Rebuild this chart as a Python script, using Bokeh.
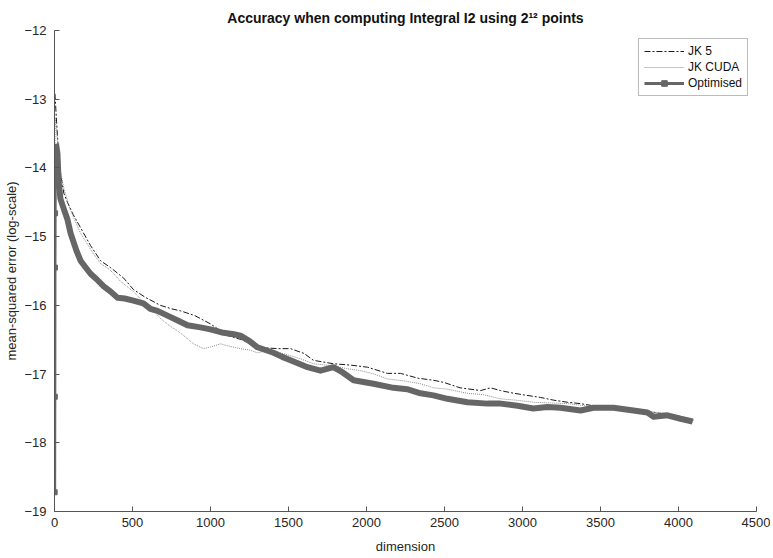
from bokeh.plotting import figure
from bokeh.models import Legend, LegendItem, FixedTicker, Range1d
from bokeh.embed import file_html
from bokeh.resources import INLINE

# ---- data ----
jk5_dim = [3, 10, 17, 26, 40, 60, 83, 120, 167, 231, 295, 359, 442, 506, 580, 679, 750, 808, 900,
           1000, 1109, 1200, 1301, 1429, 1513, 1600, 1660, 1788, 1900, 2006, 2134, 2218, 2330, 2429,
           2494, 2600, 2731, 2795, 2859, 2923, 3000, 3115, 3200, 3288, 3372, 3450, 3550, 3650, 3750,
           3850, 3950, 4050, 4096]
jk5_val = [-12.92, -13.2, -13.46, -13.79, -14.1, -14.37, -14.5, -14.68, -14.87, -15.13, -15.35, -15.45,
           -15.6, -15.77, -15.88, -16.0, -16.05, -16.08, -16.15, -16.27, -16.44, -16.5, -16.61, -16.63,
           -16.63, -16.7, -16.8, -16.85, -16.87, -16.9, -16.99, -16.99, -17.06, -17.09, -17.12, -17.2,
           -17.24, -17.2, -17.24, -17.27, -17.3, -17.34, -17.38, -17.41, -17.43, -17.46, -17.48, -17.5,
           -17.52, -17.56, -17.6, -17.64, -17.67]

cuda_dim = [1, 5, 15, 25, 38, 60, 100, 167, 250, 295, 359, 423, 506, 570, 615, 679, 740, 788, 850,
            891, 955, 1010, 1064, 1130, 1192, 1250, 1301, 1365, 1430, 1494, 1580, 1660, 1788, 1870,
            1962, 2050, 2134, 2240, 2346, 2429, 2519, 2647, 2750, 2859, 2960, 3070, 3180, 3288, 3400,
            3500, 3600, 3700, 3800, 3885, 3980, 4096]
cuda_val = [-13.9, -13.27, -13.5, -13.8, -14.04, -14.3, -14.6, -14.95, -15.25, -15.39, -15.49, -15.65,
            -15.8, -15.95, -16.03, -16.19, -16.3, -16.37, -16.48, -16.56, -16.63, -16.6, -16.56, -16.6,
            -16.63, -16.65, -16.69, -16.66, -16.68, -16.72, -16.78, -16.85, -16.88, -16.92, -16.95, -17.0,
            -17.07, -17.1, -17.14, -17.2, -17.22, -17.28, -17.3, -17.36, -17.38, -17.41, -17.42, -17.43,
            -17.46, -17.48, -17.49, -17.52, -17.55, -17.56, -17.6, -17.66]

opt_dim = [1, 2, 3, 4, 5, 7, 10, 19, 26, 38, 60, 83, 103, 140, 167, 200, 231, 270, 314, 360, 404, 450,
           506, 570, 615, 660, 724, 790, 852, 936, 1000, 1083, 1150, 1192, 1250, 1301, 1404, 1460, 1513,
           1622, 1705, 1788, 1850, 1917, 2045, 2173, 2260, 2346, 2429, 2519, 2647, 2776, 2859, 2968,
           3070, 3160, 3243, 3372, 3455, 3583, 3711, 3801, 3840, 3929, 4013, 4090]
opt_val = [-18.72, -17.33, -15.45, -14.66, -14.26, -13.9, -13.65, -13.79, -14.18, -14.45, -14.6, -14.75,
           -14.95, -15.2, -15.35, -15.45, -15.54, -15.62, -15.72, -15.8, -15.89, -15.9, -15.93, -15.97,
           -16.05, -16.08, -16.15, -16.22, -16.29, -16.32, -16.35, -16.4, -16.42, -16.44, -16.52, -16.61,
           -16.69, -16.75, -16.8, -16.9, -16.95, -16.9, -16.98, -17.09, -17.14, -17.2, -17.22, -17.28,
           -17.31, -17.36, -17.41, -17.43, -17.43, -17.46, -17.5, -17.48, -17.49, -17.53, -17.49, -17.49,
           -17.53, -17.56, -17.62, -17.6, -17.65, -17.69]

x_ticks = [0, 500, 1000, 1500, 2000, 2500, 3000, 3500, 4000, 4500]
y_ticks = [-19, -18, -17, -16, -15, -14, -13, -12]

FONT = "Liberation Sans"
AX = "#555555"
TXT = "#262626"

p = figure(width=770, height=556, output_backend="svg", toolbar_location=None,
           x_range=Range1d(0, 4500), y_range=Range1d(-19, -12),
           min_border_left=54, min_border_right=14, min_border_top=30, min_border_bottom=44,
           title="Accuracy when computing Integral I2 using 2\u00b9\u00b2 points")
p.title.align = "center"
p.title.text_font = FONT
p.title.text_font_size = "14px"
p.title.text_font_style = "bold"
p.title.text_color = "#111111"
p.title.standoff = 9
p.title.offset = 0

p.grid.visible = False
p.outline_line_color = None
p.background_fill_color = "white"
p.border_fill_color = "white"

for ax in (p.xaxis[0], p.yaxis[0]):
    ax.axis_line_color = AX
    ax.major_tick_line_color = AX
    ax.major_tick_in = 5
    ax.major_tick_out = 0
    ax.minor_tick_line_color = None
    ax.major_label_text_font = FONT
    ax.major_label_text_font_size = "13px"
    ax.major_label_text_color = TXT
    ax.axis_label_text_font = FONT
    ax.axis_label_text_font_size = "13px"
    ax.axis_label_text_font_style = "normal"
    ax.axis_label_text_color = TXT

p.xaxis.ticker = FixedTicker(ticks=x_ticks)
p.yaxis.ticker = FixedTicker(ticks=y_ticks)
p.xaxis.axis_label = "dimension"
p.yaxis.axis_label = "mean-squared error (log-scale)"
p.xaxis.major_label_standoff = 6
p.xaxis.axis_label_standoff = 9
p.yaxis.major_label_standoff = 8
p.yaxis.axis_label_standoff = 2

r_jk5 = p.line(jk5_dim, jk5_val, line_color="#1a1a1a", line_width=1, line_dash="6 2 2 2")
r_cuda = p.line(cuda_dim, cuda_val, line_color="#8c8c8c", line_width=1, line_dash="1 1")

opt_col = "#666666"
r_opt_thin = p.line(opt_dim, opt_val, line_color=opt_col, line_width=3)
n0 = 6
r_opt_thick = p.line(opt_dim[n0:], opt_val[n0:], line_color=opt_col, line_width=6, line_join="round")
r_opt_mk = p.scatter(opt_dim[:n0], opt_val[:n0], marker="square", size=5,
                     fill_color=opt_col, line_color=opt_col)

legend = Legend(items=[
    LegendItem(label="JK 5", renderers=[r_jk5]),
    LegendItem(label="JK CUDA", renderers=[r_cuda]),
    LegendItem(label="Optimised", renderers=[r_opt_thin, r_opt_mk]),
], location="top_right")
legend.label_text_font = FONT
legend.label_text_font_size = "12px"
legend.label_text_color = "#111111"
legend.glyph_width = 40
legend.glyph_height = 14
legend.label_height = 14
legend.spacing = 2
legend.padding = 5
legend.margin = 8
legend.label_standoff = 4
legend.border_line_color = "#777777"
legend.border_line_width = 1
legend.background_fill_alpha = 1
p.add_layout(legend)

open("out.html", "w").write(file_html(p, INLINE))
